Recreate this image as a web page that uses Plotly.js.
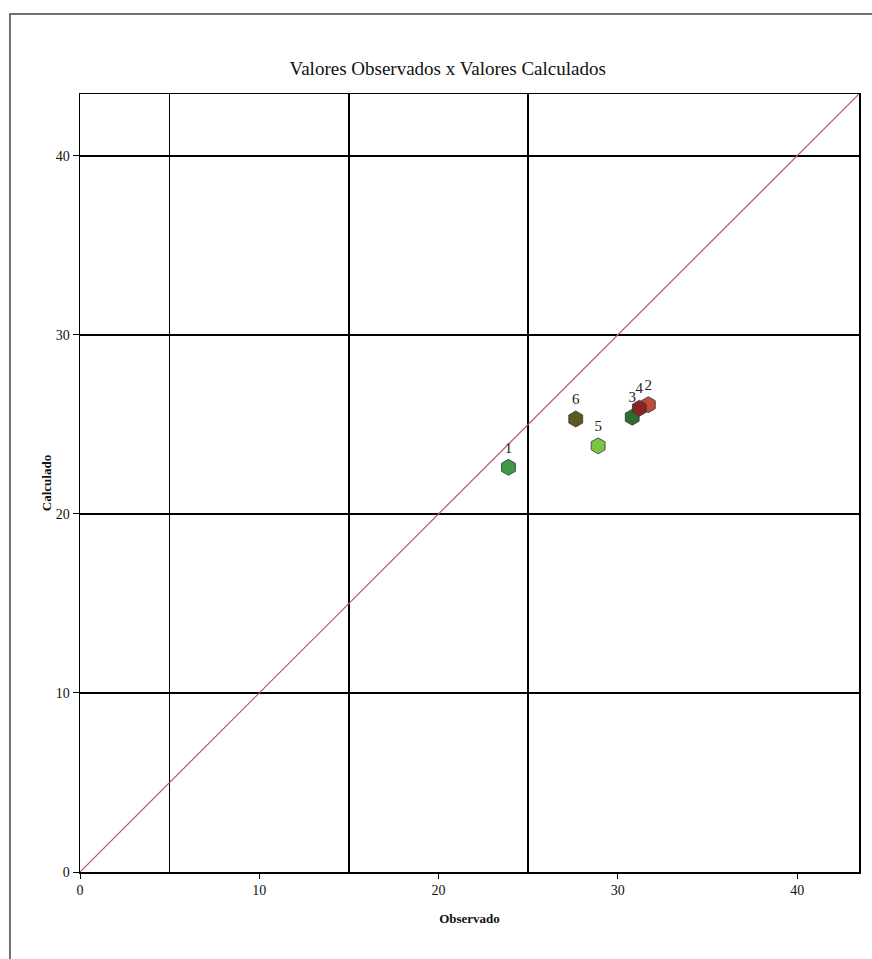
<!DOCTYPE html>
<html>
<head>
<meta charset="utf-8">
<script src="https://cdn.plot.ly/plotly-3.0.1.min.js"></script>
<style>html,body{margin:0;padding:0;background:#fff;}#chart{width:872px;height:959px;}</style>
</head>
<body>
<div id="chart"></div>
<script>
// Data
const labels = ["1", "2", "3", "4", "5", "6"];
const observado = [23.9, 31.7, 30.8, 31.2, 28.9, 27.65];
const calculado = [22.6, 26.1, 25.4, 25.9, 23.8, 25.3];
const pointColors = ["#3c9a48", "#c44a38", "#2e6e30", "#8a2620", "#7cc444", "#5c5a22"];
const axisRange = [0, 43.45];
const identityLine = [0, 43.45];
const tickValues = [0, 10, 20, 30, 40];
const xGridValues = [5, 15, 25];

const font = "Liberation Serif, Times New Roman, serif";

const traces = [
  {
    x: identityLine, y: identityLine, type: "scatter", mode: "lines",
    line: {color: "#c0506e", width: 1.2}, hoverinfo: "skip", showlegend: false
  },
  {
    x: observado, y: calculado, text: labels, type: "scatter", mode: "markers+text",
    textposition: "top center",
    textfont: {family: font, size: 15, color: "#222"},
    marker: {symbol: "hexagon", size: 16, color: pointColors,
             line: {color: "#333", width: 0.8}},
    showlegend: false
  }
];

const layout = {
  width: 872, height: 959,
  margin: {l: 80, r: 13, t: 94, b: 87},
  paper_bgcolor: "#fff", plot_bgcolor: "#fff",
  font: {family: font, color: "#111"},
  title: {text: "Valores Observados x Valores Calculados", font: {family: font, size: 19, color: "#111"},
          xref: "paper", x: 0.472, xanchor: "center", yref: "container", y: 0.929, yanchor: "middle"},
  xaxis: {
    range: axisRange, tickvals: tickValues, ticks: "outside", ticklen: 5, tickcolor: "#000",
    showgrid: false, zeroline: false, showline: true, linecolor: "#000", linewidth: 1.5, mirror: true,
    tickfont: {family: font, size: 14, color: "#111"},
    minor: {tickvals: xGridValues, showgrid: true, gridcolor: "#000", gridwidth: 1.5, ticks: ""},
    title: {text: "<b>Observado</b>", font: {family: font, size: 13, color: "#111"}, standoff: 16}
  },
  yaxis: {
    range: axisRange, tickvals: tickValues, ticks: "outside", ticklen: 6, tickcolor: "#000",
    showgrid: true, gridcolor: "#000", gridwidth: 1.5, zeroline: false,
    showline: true, linecolor: "#000", linewidth: 1.5, mirror: true,
    tickfont: {family: font, size: 14, color: "#111"},
    title: {text: "<b>Calculado</b>", font: {family: font, size: 13, color: "#111"}, standoff: 1}
  },
  shapes: [
    {type: "rect", xref: "paper", yref: "paper", x0: -0.0899, x1: 1.1, y0: -0.2, y1: 1.1028,
     line: {color: "#444", width: 1.5}, fillcolor: "rgba(0,0,0,0)", layer: "below"}
  ]
};

Plotly.newPlot("chart", traces, layout, {displayModeBar: false, staticPlot: true});
</script>
</body>
</html>
